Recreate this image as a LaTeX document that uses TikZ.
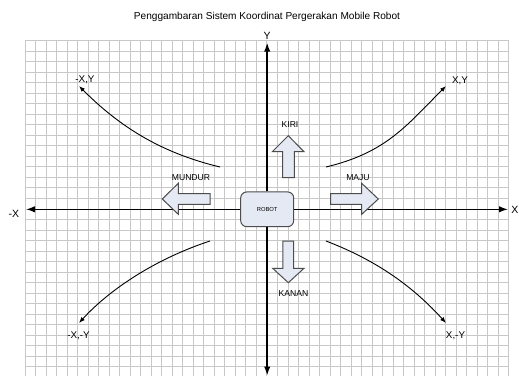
\documentclass[tikz,border=0pt]{standalone}
\usepackage{fontspec}
\setmainfont{Liberation Sans}
\usetikzlibrary{arrows.meta}
\definecolor{gridc}{HTML}{C8C8C8}
\definecolor{boxfill}{HTML}{E4E9F3}
\definecolor{boxline}{HTML}{4D4D4D}
\begin{document}
\begin{tikzpicture}[x=1pt,y=-1pt,
  gridline/.style={draw=gridc,line width=1pt},
  axisline/.style={line width=1.6pt,-{Latex[length=9pt,width=6.5pt]}},
  curveline/.style={line width=0.9pt,-{Latex[length=6pt,width=4.5pt]}},
  blockarrow/.style={draw=boxline,fill=boxfill,line width=1pt,line join=miter},
  robotbox/.style={draw=boxline,fill=boxfill,line width=1pt,rounded corners=6pt,inner sep=0pt,
     minimum width=53pt,minimum height=34.7pt,font=\fontsize{5.8}{7}\selectfont},
  movelbl/.style={inner sep=0pt,font=\fontsize{8.6}{10}\selectfont},
  quadlbl/.style={inner sep=0pt,font=\fontsize{9.8}{11}\selectfont},
  axislbl/.style={inner sep=0pt,font=\fontsize{10.5}{12}\selectfont},
  titlelbl/.style={inner sep=0pt,font=\fontsize{10.1}{12}\selectfont}]
\useasboundingbox (0,0) rectangle (519,376);
\fill[white] (0,0) rectangle (519,376);
% grid
\foreach \i in {0,...,46} \draw[gridline] ({25+\i*10.52},40.7) -- ({25+\i*10.52},376);
\foreach \j in {0,...,31} \draw[gridline] (25,{40.7+\j*10.52}) -- (509,{40.7+\j*10.52});
% title
\node[titlelbl] (title) at (267,16.5) {Penggambaran Sistem Koordinat Pergerakan Mobile Robot};
% robot
\node[robotbox] (robot) at (267.2,209.3) {ROBOT};
% axis ends
\coordinate (ytop) at (267.2,42.7);
\coordinate (ybot) at (267.2,375.5);
\coordinate (xleft) at (26,209.3);
\coordinate (xright) at (508,209.3);
\draw[axisline] (robot.north) -- (ytop);
\draw[axisline] (robot.south) -- (ybot);
\draw[axisline] (robot.west) -- (xleft);
\draw[axisline] (robot.east) -- (xright);
\node[axislbl] (ylbl) at (267.2,35.5) {Y};
\node[axislbl] (mxlbl) at (14,213.5) {-X};
\node[axislbl,anchor=east] (xlbl) at (518.6,209.5) {X};
% block arrows
\draw[blockarrow] (162.3,199) -- (178.3,183.3) -- (178.3,193.5) -- (210,193.5) -- (210,204.3) -- (178.3,204.3) -- (178.3,214.3) -- cycle;
\draw[blockarrow] (378.3,199) -- (361.7,183.3) -- (361.7,193.7) -- (330.7,193.7) -- (330.7,204.3) -- (361.7,204.3) -- (361.7,214.3) -- cycle;
\draw[blockarrow] (288.3,135.7) -- (304,151.7) -- (294.3,151.7) -- (294.3,177.7) -- (282.7,177.7) -- (282.7,151.7) -- (272.3,151.7) -- cycle;
\draw[blockarrow] (288.3,282.7) -- (304,268.3) -- (293.7,268.3) -- (293.7,241) -- (282.9,241) -- (282.9,268.3) -- (272.7,268.3) -- cycle;
\node[movelbl] (mundur) at (191,177.3) {MUNDUR};
\node[movelbl] (maju) at (358,177.3) {MAJU};
\node[movelbl] (kiri) at (290,125) {KIRI};
\node[movelbl] (kanan) at (293.5,293.3) {KANAN};
% curves
\coordinate (s1) at (220,167);
\coordinate (e1) at (79,86);
\coordinate (s2) at (326,167);
\coordinate (e2) at (446,86);
\coordinate (s3) at (210,241);
\coordinate (e3) at (79,323);
\coordinate (s4) at (326,241);
\coordinate (e4) at (446,323);
\draw[curveline] (s1) .. controls (160,152.6) and (119,126) .. (e1);
\draw[curveline] (s2) .. controls (386,152.6) and (406,126) .. (e2);
\draw[curveline] (s3) .. controls (155,259) and (109,290) .. (e3);
\draw[curveline] (s4) .. controls (381,262) and (416,290) .. (e4);
\node[quadlbl] (q2) at (85,79.5) {-X,Y};
\node[quadlbl] (q1) at (460,81) {X,Y};
\node[quadlbl] (q3) at (78.5,336) {-X,-Y};
\node[quadlbl] (q4) at (455.5,336) {X,-Y};
\end{tikzpicture}
\end{document}
